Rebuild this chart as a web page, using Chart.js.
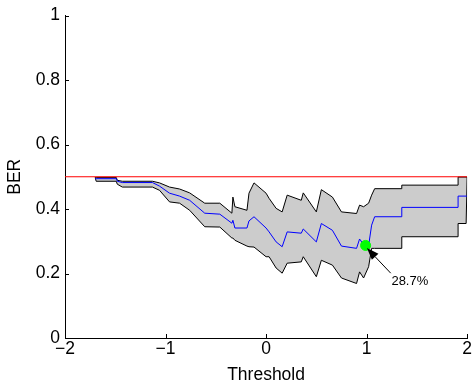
<!DOCTYPE html>
<html>
<head>
<meta charset="utf-8">
<script src="https://cdn.jsdelivr.net/npm/chart.js@4/dist/chart.umd.min.js"></script>
<style>
  html, body { margin: 0; padding: 0; background: #fff; }
  #wrap { width: 474px; height: 385px; }
</style>
</head>
<body>
<div id="wrap"><canvas id="berChart"></canvas></div>
<script>
// threshold positions along the curve
const thresholds = [-1.70, -1.69, -1.49, -1.48, -1.43, -1.13, -1.06, -0.96, -0.86, -0.76, -0.61, -0.46,
  -0.34, -0.33, -0.31, -0.19, -0.17, -0.12, 0.00, 0.03, 0.10, 0.16, 0.21, 0.35, 0.37, 0.50, 0.55,
  0.66, 0.75, 0.90, 0.93, 0.97, 1.02, 1.05, 1.08, 1.35, 1.35, 1.91, 1.91, 1.99, 2.00];

const berUpper = [0.498, 0.498, 0.498, 0.489, 0.486, 0.486, 0.481, 0.468, 0.462, 0.450, 0.418, 0.418,
  0.387, 0.437, 0.407, 0.396, 0.449, 0.481, 0.449, 0.433, 0.402, 0.391, 0.443, 0.427, 0.450, 0.391, 0.460,
  0.437, 0.391, 0.386, 0.412, 0.407, 0.418, 0.443, 0.463, 0.463, 0.474, 0.474, 0.499, 0.499, 0.499];

const berMean = [0.494, 0.494, 0.494, 0.486, 0.482, 0.482, 0.471, 0.449, 0.440, 0.427, 0.387, 0.384,
  0.356, 0.365, 0.341, 0.341, 0.363, 0.376, 0.341, 0.329, 0.298, 0.283, 0.329, 0.325, 0.338, 0.298, 0.355,
  0.334, 0.285, 0.278, 0.307, 0.290, 0.287, 0.350, 0.376, 0.376, 0.405, 0.405, 0.440, 0.440, 0.440];

const berLower = [0.498, 0.486, 0.486, 0.477, 0.468, 0.468, 0.458, 0.422, 0.418, 0.396, 0.345, 0.344,
  0.310, 0.310, 0.303, 0.285, 0.283, 0.282, 0.252, 0.252, 0.217, 0.201, 0.232, 0.236, 0.252, 0.190, 0.241,
  0.226, 0.186, 0.169, 0.205, 0.186, 0.221, 0.278, 0.278, 0.278, 0.314, 0.314, 0.355, 0.355, 0.499];

const chanceX = [-2, 2];
const chanceY = [0.5, 0.5];

const bestX = [0.99];
const bestY = [0.287];
const bestLabel = "28.7%";

// arrow annotation, in data units
const arrowTip = { x: 1.003, y: 0.279 };
const arrowTail = { x: 1.24, y: 0.201 };
const labelPos = { x: 1.43, y: 0.174 };

const xTicks = [-2, -1, 0, 1, 2];
const yTicks = [0, 0.2, 0.4, 0.6, 0.8, 1];

const FONT = "'Liberation Sans', Arial, Helvetica, sans-serif";

function pts(xs, ys) {
  return xs.map((x, i) => ({ x: x, y: ys[i] }));
}

const inwardTicks = {
  id: 'inwardTicks',
  afterDraw(chart) {
    const ctx = chart.ctx;
    const xs = chart.scales.x, ys = chart.scales.y;
    const area = chart.chartArea;
    ctx.save();
    ctx.strokeStyle = '#000';
    ctx.lineWidth = 1;
    ctx.beginPath();
    xTicks.forEach(v => {
      const px = Math.round(xs.getPixelForValue(v)) + 0.5;
      ctx.moveTo(px, area.bottom);
      ctx.lineTo(px, area.bottom - 4);
    });
    yTicks.forEach(v => {
      const py = Math.round(ys.getPixelForValue(v)) + 0.5;
      ctx.moveTo(area.left, py);
      ctx.lineTo(area.left + 4, py);
    });
    ctx.stroke();
    ctx.restore();
  }
};

const arrowNote = {
  id: 'arrowNote',
  afterDatasetsDraw(chart) {
    const ctx = chart.ctx;
    const xs = chart.scales.x, ys = chart.scales.y;
    const tx = xs.getPixelForValue(arrowTip.x), ty = ys.getPixelForValue(arrowTip.y);
    const sx = xs.getPixelForValue(arrowTail.x), sy = ys.getPixelForValue(arrowTail.y);
    const ang = Math.atan2(ty - sy, tx - sx);
    const headLen = 12, headW = 4.5;
    const bx = tx - headLen * Math.cos(ang), by = ty - headLen * Math.sin(ang);
    ctx.save();
    ctx.strokeStyle = '#000';
    ctx.fillStyle = '#000';
    ctx.lineWidth = 1;
    ctx.beginPath();
    ctx.moveTo(sx, sy);
    ctx.lineTo(bx, by);
    ctx.stroke();
    ctx.beginPath();
    ctx.moveTo(tx, ty);
    ctx.lineTo(bx + headW * Math.sin(ang), by - headW * Math.cos(ang));
    ctx.lineTo(bx - headW * Math.sin(ang), by + headW * Math.cos(ang));
    ctx.closePath();
    ctx.fill();
    ctx.font = '13px ' + FONT;
    ctx.textAlign = 'center';
    ctx.textBaseline = 'middle';
    ctx.fillText(bestLabel, xs.getPixelForValue(labelPos.x), ys.getPixelForValue(labelPos.y));
    ctx.restore();
  }
};

const ctx = document.getElementById('berChart').getContext('2d');
new Chart(ctx, {
  type: 'line',
  data: {
    datasets: [
      { label: 'chance', data: pts(chanceX, chanceY), borderColor: '#ff0000', borderWidth: 1,
        pointRadius: 0, fill: false, order: 0 },
      { label: 'best', type: 'scatter', data: pts(bestX, bestY), backgroundColor: '#00ff00',
        borderColor: '#00ff00', pointRadius: 5, order: 0 },
      { label: 'mean', data: pts(thresholds, berMean), borderColor: '#0000ff', borderWidth: 1,
        pointRadius: 0, fill: false, order: 1 },
      { label: 'upper', data: pts(thresholds, berUpper), borderColor: '#000', borderWidth: 1,
        pointRadius: 0, fill: false, order: 2 },
      { label: 'lower', data: pts(thresholds, berLower), borderColor: '#000', borderWidth: 1,
        pointRadius: 0, fill: '-1', backgroundColor: '#cccccc', order: 3 }
    ]
  },
  options: {
    responsive: true,
    maintainAspectRatio: false,
    animation: false,
    events: [],
    layout: { padding: { top: 15, right: 5, bottom: 0, left: 0 } },
    plugins: { legend: { display: false }, tooltip: { enabled: false } },
    elements: { line: { tension: 0 } },
    scales: {
      x: {
        type: 'linear', min: -2, max: 2,
        afterFit: s => { s.height = 47; },
        afterBuildTicks: s => { s.ticks = xTicks.map(v => ({ value: v })); },
        grid: { display: false, drawTicks: false },
        border: { display: true, color: '#000', width: 1 },
        ticks: {
          padding: 2, color: '#000', font: { family: FONT, size: 17.5, lineHeight: 1.0 }, maxRotation: 0,
          callback: v => String(v).replace('-', '\u2212')
        },
        title: { display: true, text: 'Threshold', color: '#000', font: { family: FONT, size: 17.5, lineHeight: 1.0 },
          padding: { top: 0, bottom: 1 } }
      },
      y: {
        type: 'linear', min: 0, max: 1,
        afterFit: s => { s.width = 65; },
        afterBuildTicks: s => { s.ticks = yTicks.map(v => ({ value: v })); },
        grid: { display: false, drawTicks: false },
        border: { display: true, color: '#000', width: 1 },
        ticks: { padding: 5, color: '#000', font: { family: FONT, size: 17.5 }, callback: v => String(v) },
        title: { display: true, text: 'BER', color: '#000', font: { family: FONT, size: 17.5, lineHeight: 1.0 },
          padding: { top: 6, bottom: 0 } }
      }
    }
  },
  plugins: [inwardTicks, arrowNote]
});
</script>
</body>
</html>
